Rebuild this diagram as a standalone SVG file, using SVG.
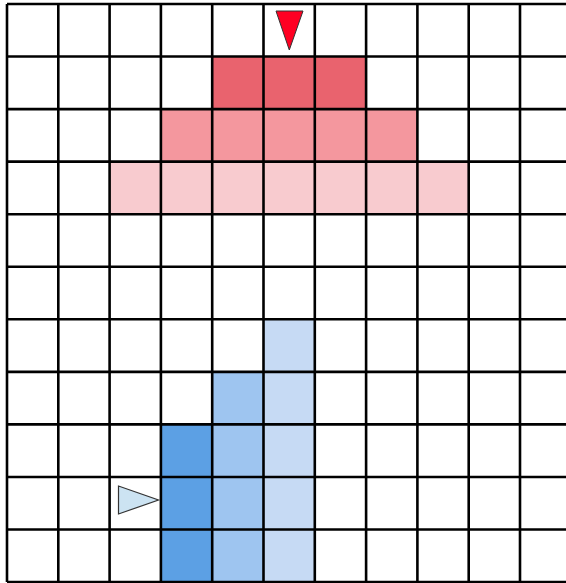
<svg xmlns="http://www.w3.org/2000/svg" width="566" height="583" viewBox="0 0 566 583">
<style>
.g line{stroke:#000;stroke-width:2.6}
.r1{fill:#E9636E}.r2{fill:#F4979E}.r3{fill:#F8CBCF}
.b1{fill:#5CA0E4}.b2{fill:#9EC5F0}.b3{fill:#C6DAF4}
</style>
<rect width="566" height="583" fill="#fff"/>
<g id="red-cells">
<rect class="r1" x="212.2" y="56.55" width="153.9" height="52.55"/>
<rect class="r2" x="160.9" y="109.1" width="256.5" height="52.55"/>
<rect class="r3" x="109.6" y="161.65" width="359.1" height="52.55"/>
</g>
<g id="blue-cells">
<rect class="b1" x="160.9" y="424.4" width="51.3" height="158"/>
<rect class="b2" x="212.2" y="371.85" width="51.3" height="210.6"/>
<rect class="b3" x="263.5" y="319.3" width="51.3" height="263.1"/>
</g>
<g id="grid" class="g">
<line x1="7" y1="4" x2="7" y2="582"/>
<line x1="58.3" y1="4" x2="58.3" y2="582"/>
<line x1="109.6" y1="4" x2="109.6" y2="582"/>
<line x1="160.9" y1="4" x2="160.9" y2="582"/>
<line x1="212.2" y1="4" x2="212.2" y2="582"/>
<line x1="263.5" y1="4" x2="263.5" y2="582"/>
<line x1="314.8" y1="4" x2="314.8" y2="582"/>
<line x1="366.1" y1="4" x2="366.1" y2="582"/>
<line x1="417.4" y1="4" x2="417.4" y2="582"/>
<line x1="468.7" y1="4" x2="468.7" y2="582"/>
<line x1="520" y1="4" x2="520" y2="582"/>
<line x1="7" y1="4" x2="566" y2="4"/>
<line x1="7" y1="56.55" x2="566" y2="56.55"/>
<line x1="7" y1="109.1" x2="566" y2="109.1"/>
<line x1="7" y1="161.65" x2="566" y2="161.65"/>
<line x1="7" y1="214.2" x2="566" y2="214.2"/>
<line x1="7" y1="266.75" x2="566" y2="266.75"/>
<line x1="7" y1="319.3" x2="566" y2="319.3"/>
<line x1="7" y1="371.85" x2="566" y2="371.85"/>
<line x1="7" y1="424.4" x2="566" y2="424.4"/>
<line x1="7" y1="476.95" x2="566" y2="476.95"/>
<line x1="7" y1="529.5" x2="566" y2="529.5"/>
<line x1="7" y1="582" x2="566" y2="582"/>
</g>
<g id="red-marker">
<polygon points="276,11 303,11 289.3,50" fill="#FF0022" stroke="#333" stroke-width="1"/>
</g>
<g id="blue-marker">
<polygon points="118.5,486 118.5,514 158.5,500" fill="#CCE3F2" stroke="#333" stroke-width="1.2"/>
</g>
</svg>
